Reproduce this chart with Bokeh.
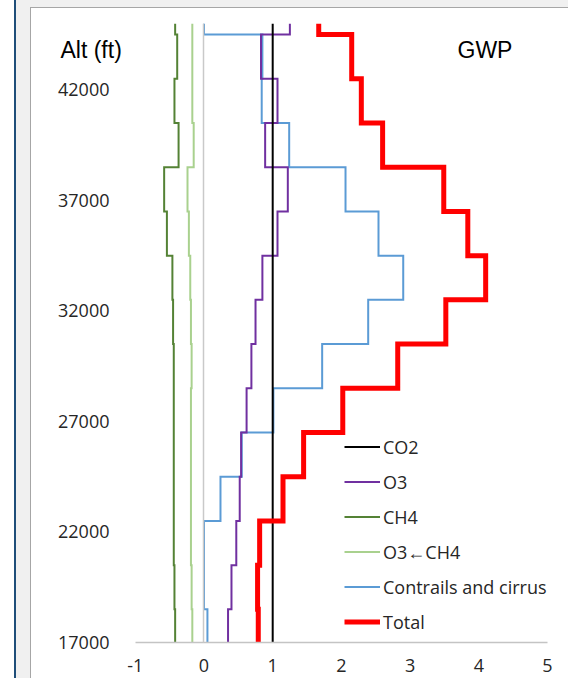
from bokeh.plotting import figure
from bokeh.models import Range1d, FixedTicker, Label, Legend, LegendItem, LinearAxis
from bokeh.embed import file_html
from bokeh.resources import INLINE

# altitude levels (ft) of each value; steps change half-way between levels
alt_ft = [17500, 19500, 21500, 23500, 25500, 27500, 29500, 31500,
          33500, 35500, 37500, 39500, 41500, 43500, 45500]

co2 = [1.0, 1.0, 1.0, 1.0, 1.0, 1.0, 1.0, 1.0, 1.0, 1.0, 1.0, 1.0, 1.0, 1.0, 1.0]
o3 = [0.35, 0.40, 0.47, 0.52, 0.54, 0.62, 0.69, 0.75, 0.85, 1.07, 1.22, 0.89, 1.07, 0.83, 1.25]
ch4 = [-0.42, -0.43, -0.44, -0.44, -0.44, -0.44, -0.44, -0.45, -0.46, -0.54, -0.58, -0.37, -0.43, -0.39, -0.42]
o3_ch4 = [-0.17, -0.18, -0.19, -0.19, -0.19, -0.19, -0.18, -0.19, -0.20, -0.22, -0.24, -0.15, -0.17, -0.17, -0.17]
contrails = [0.05, 0.0, 0.0, 0.24, 0.55, 1.01, 1.72, 2.39, 2.90, 2.54, 2.06, 1.24, 0.84, 0.85, 0.0]
total = [0.79, 0.78, 0.81, 1.15, 1.45, 2.02, 2.82, 3.52, 4.10, 3.84, 3.49, 2.60, 2.29, 2.15, 1.67]

x_ticks = [-1, 0, 1, 2, 3, 4, 5]
x_tick_labels = ["-1", "0", "1", "2", "3", "4", "5"]
y_ticks = [17000, 22000, 27000, 32000, 37000, 42000]
y_min, y_max = 17000, 45000   # vertical axis extent
x_min, x_max = -1, 5          # horizontal axis extent


def step_path(values):
    xs, ys = [], []
    n = len(alt_ft)
    for i, v in enumerate(values):
        lo = (alt_ft[i - 1] + alt_ft[i]) / 2 if i > 0 else alt_ft[0] - (alt_ft[1] - alt_ft[0]) / 2
        hi = (alt_ft[i] + alt_ft[i + 1]) / 2 if i < n - 1 else alt_ft[-1] + (alt_ft[-1] - alt_ft[-2]) / 2
        xs += [v, v]
        ys += [max(lo, y_min), min(hi, y_max)]
    return xs, ys


p = figure(width=568, height=678, output_backend="svg", toolbar_location=None,
           x_range=Range1d(-2.5109, 5.3057), y_range=Range1d(15371.6, 45000),
           min_border_left=31, min_border_right=0, min_border_top=23, min_border_bottom=0,
           x_axis_location=None, y_axis_location=None)
p.border_fill_color = None
p.styles = {"background": (
    "linear-gradient(#A6A6A6, #A6A6A6) 30px 7px / 100% 1px no-repeat, "
    "linear-gradient(#F0F0F0, #F0F0F0) 16px 0px / 100% 7px no-repeat, "
    "linear-gradient(to right, #FFFFFF 0px, #FFFFFF 14px, #1F4E79 14px, #1F4E79 16px, "
    "#F0F0F0 16px, #F0F0F0 30px, #A6A6A6 30px, #A6A6A6 31px, #FFFFFF 31px) 0px 0px / 100% 100% no-repeat")}
p.background_fill_color = "white"
p.outline_line_color = None
p.grid.visible = False

# horizontal axis at 17000 ft
xaxis = LinearAxis(fixed_location=y_min, ticker=FixedTicker(ticks=x_ticks), bounds=(x_min, x_max),
                   major_label_overrides=dict(zip(x_ticks, x_tick_labels)),
                   axis_line_color="#C4C4C4", axis_line_width=1.5,
                   major_tick_line_color=None, minor_tick_line_color=None,
                   major_label_standoff=10, major_label_text_font="Open Sans",
                   major_label_text_font_size="18px", major_label_text_color="#262626")
p.add_layout(xaxis, "below")

# vertical axis line at x = 0 (no labels)
vline = LinearAxis(fixed_location=0, ticker=FixedTicker(ticks=[]), bounds=(y_min, y_max),
                   axis_line_color="#C9C9C9", axis_line_width=1.5,
                   major_tick_line_color=None, minor_tick_line_color=None,
                   major_label_text_alpha=0)
p.add_layout(vline, "left")

# altitude tick labels at the left of the plot area
yaxis = LinearAxis(fixed_location=-1.2154, ticker=FixedTicker(ticks=y_ticks),
                   axis_line_color=None, major_tick_line_color=None, minor_tick_line_color=None,
                   major_label_standoff=5, major_label_text_font="Open Sans",
                   major_label_text_font_size="18px", major_label_text_color="#262626")
p.add_layout(yaxis, "left")

series = {}
for key, vals, color, width in [
    ("ch4", ch4, "#548235", 2),
    ("o3_ch4", o3_ch4, "#A9D18E", 2),
    ("contrails", contrails, "#5B9BD5", 2),
    ("o3", o3, "#7030A0", 2),
    ("co2", co2, "#000000", 2),
    ("total", total, "#FF0000", 5),
]:
    xs, ys = step_path(vals)
    series[key] = p.line(xs, ys, line_color=color, line_width=width, line_join="miter")

legend = Legend(items=[
    LegendItem(label="CO2", renderers=[series["co2"]]),
    LegendItem(label="O3", renderers=[series["o3"]]),
    LegendItem(label="CH4", renderers=[series["ch4"]]),
    LegendItem(label="O3\u2190CH4", renderers=[series["o3_ch4"]]),
    LegendItem(label="Contrails and cirrus", renderers=[series["contrails"]]),
    LegendItem(label="Total", renderers=[series["total"]]),
], location=(313, 44))
legend.padding = 0
legend.margin = 0
legend.border_line_color = None
legend.background_fill_alpha = 0
legend.glyph_width = 36
legend.glyph_height = 25
legend.label_height = 25
legend.spacing = 10
legend.label_standoff = 3
legend.label_text_font = "Open Sans"
legend.label_text_font_size = "18px"
legend.label_text_color = "#262626"
p.add_layout(legend, "center")

p.add_layout(Label(x=-2.089, y=43801, text="Alt (ft)", text_font="Liberation Sans",
                   text_font_size="23px", text_color="#000000", text_baseline="alphabetic"))
p.add_layout(Label(x=3.69, y=43801, text="GWP", text_font="Liberation Sans",
                   text_font_size="23px", text_color="#000000", text_baseline="alphabetic"))

open("out.html", "w").write(file_html(p, INLINE))
